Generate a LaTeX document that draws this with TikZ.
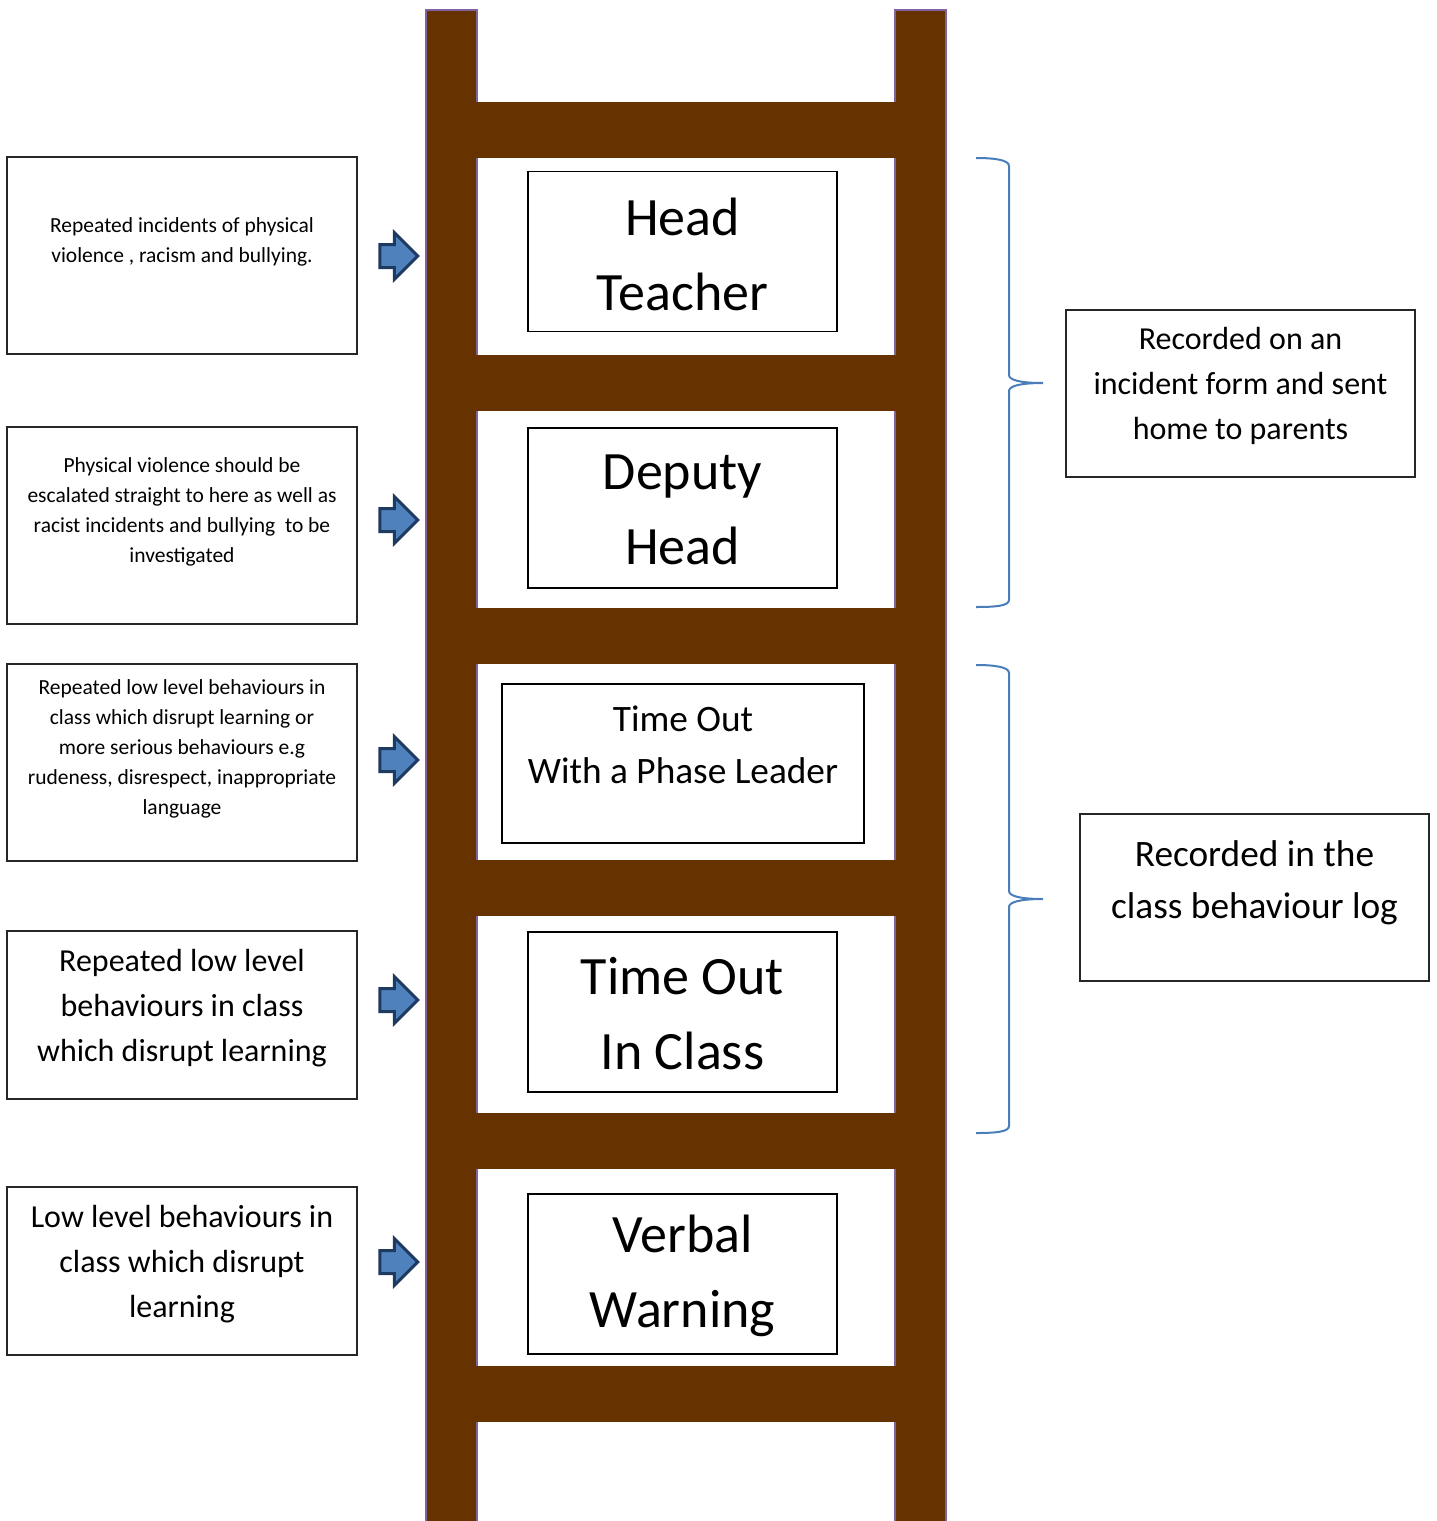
\documentclass[tikz,border=0pt]{standalone}
\usepackage{fontspec}
\setmainfont{Carlito}
\usetikzlibrary{shapes.arrows}
\definecolor{ladderbrown}{HTML}{663300}
\definecolor{railpurple}{HTML}{8064A2}
\definecolor{bracblue}{HTML}{4A7EBB}
\definecolor{arrfill}{HTML}{4F81BD}
\definecolor{arrdraw}{HTML}{1F3A60}
\tikzset{
  rail/.style={fill=ladderbrown, draw=railpurple, line width=2pt},
  rung/.style={fill=ladderbrown, draw=none},
  leftbox/.style={draw=black!85, line width=1.3pt, minimum width=350pt, inner sep=0pt},
  midbox/.style={draw=black, line width=1.8pt, inner sep=0pt},
  rightbox/.style={draw=black!85, line width=1.3pt, minimum width=349pt, minimum height=167pt, inner sep=0pt},
  txt/.style={align=center, inner sep=0pt, text=black},
  blockarrow/.style={single arrow, fill=arrfill, draw=arrdraw, line width=3pt,
    minimum height=38pt, minimum width=47pt, inner xsep=0pt, inner ysep=10pt,
    single arrow head extend=12pt, single arrow tip angle=90},
  bracepath/.style={draw=bracblue, line width=2pt}
}
\newcommand{\smallfont}{\fontsize{21.5}{30}\selectfont}
\newcommand{\medfont}{\fontsize{32}{45}\selectfont}
\newcommand{\bigfont}{\fontsize{54}{75}\selectfont}
\newcommand{\phasefont}{\fontsize{37.3}{52}\selectfont}
\newcommand{\logfont}{\fontsize{37.3}{52}\selectfont}
\begin{document}
\begin{tikzpicture}[x=1pt,y=-1pt]
\useasboundingbox (0,0) rectangle (1436,1521);
% ladder rails
\path[rail] (426,10) rectangle (477,1530);
\path[rail] (895,10) rectangle (946,1530);
% rungs
\foreach \y in {102,355,608,860,1113,1366}{
  \path[rung] (476,\y) rectangle (896,\y+56);
}
% centre boxes
\node[midbox, minimum width=309pt, minimum height=160pt] (ht) at (682.5,251.5) {};
\node[txt, font=\bigfont] (htt) at (682.5,254) {Head\\Teacher};
\node[midbox, minimum width=309pt, minimum height=160pt] (dh) at (682.5,508) {};
\node[txt, font=\bigfont] (dht) at (682.5,510) {Deputy\\Head};
\node[midbox, minimum width=362pt, minimum height=159pt] (pl) at (683,763.5) {};
\node[txt, font=\phasefont] (plt) at (683,745) {Time Out\\With a Phase Leader};
\node[midbox, minimum width=309pt, minimum height=160pt] (tc) at (682.5,1012) {};
\node[txt, font=\bigfont] (tct) at (682.5,1014) {Time Out\\In Class};
\node[midbox, minimum width=309pt, minimum height=160pt] (vw) at (682.5,1274) {};
\node[txt, font=\bigfont] (vwt) at (682.5,1276) {Verbal\\Warning};
% left boxes
\node[leftbox, minimum height=197pt] (l1) at (182,255.5) {};
\node[txt, font=\smallfont] (l1t) at (182,242) {Repeated incidents of physical\\violence , racism and bullying.};
\node[leftbox, minimum height=197pt] (l2) at (182,525.5) {};
\node[txt, font=\smallfont] (l2t) at (182,512) {Physical violence should be\\escalated straight to here as well as\\racist incidents and bullying\ \ to be\\investigated};
\node[leftbox, minimum height=197pt] (l3) at (182,762.5) {};
\node[txt, font=\smallfont] (l3t) at (182,749) {Repeated low level behaviours in\\class which disrupt learning or\\more serious behaviours e.g\\rudeness, disrespect, inappropriate\\language};
\node[leftbox, minimum height=168pt] (l4) at (182,1015) {};
\node[txt, font=\medfont] (l4t) at (182,1008) {Repeated low level\\behaviours in class\\which disrupt learning};
\node[leftbox, minimum height=168pt] (l5) at (182,1271) {};
\node[txt, font=\medfont] (l5t) at (182,1264) {Low level behaviours in\\class which disrupt\\learning};
% arrows
\node[blockarrow] (a1) at (393,256) {};
\node[blockarrow] (a2) at (393,520) {};
\node[blockarrow] (a3) at (393,760) {};
\node[blockarrow] (a4) at (393,1000) {};
\node[blockarrow] (a5) at (393,1262) {};
% braces
\draw[bracepath] (976,158) .. controls (995,158) and (1009,160) .. (1009,166)
  -- (1009,375) .. controls (1009,380) and (1020,383) .. (1043,383)
  .. controls (1020,383) and (1009,386) .. (1009,391)
  -- (1009,600) .. controls (1009,606) and (995,607) .. (976,607);
\draw[bracepath] (976,665) .. controls (995,665) and (1009,667) .. (1009,673)
  -- (1009,891) .. controls (1009,896) and (1020,899) .. (1043,899)
  .. controls (1020,899) and (1009,902) .. (1009,907)
  -- (1009,1126) .. controls (1009,1132) and (995,1133) .. (976,1133);
% right boxes
\node[rightbox] (r1) at (1240.5,393.5) {};
\node[txt, font=\medfont] (r1t) at (1240.5,386) {Recorded on an\\incident form and sent\\home to parents};
\node[rightbox] (r2) at (1254.5,897.5) {};
\node[txt, font=\logfont] (r2t) at (1254.5,883) {Recorded in the\\class behaviour log};
\end{tikzpicture}
\end{document}
